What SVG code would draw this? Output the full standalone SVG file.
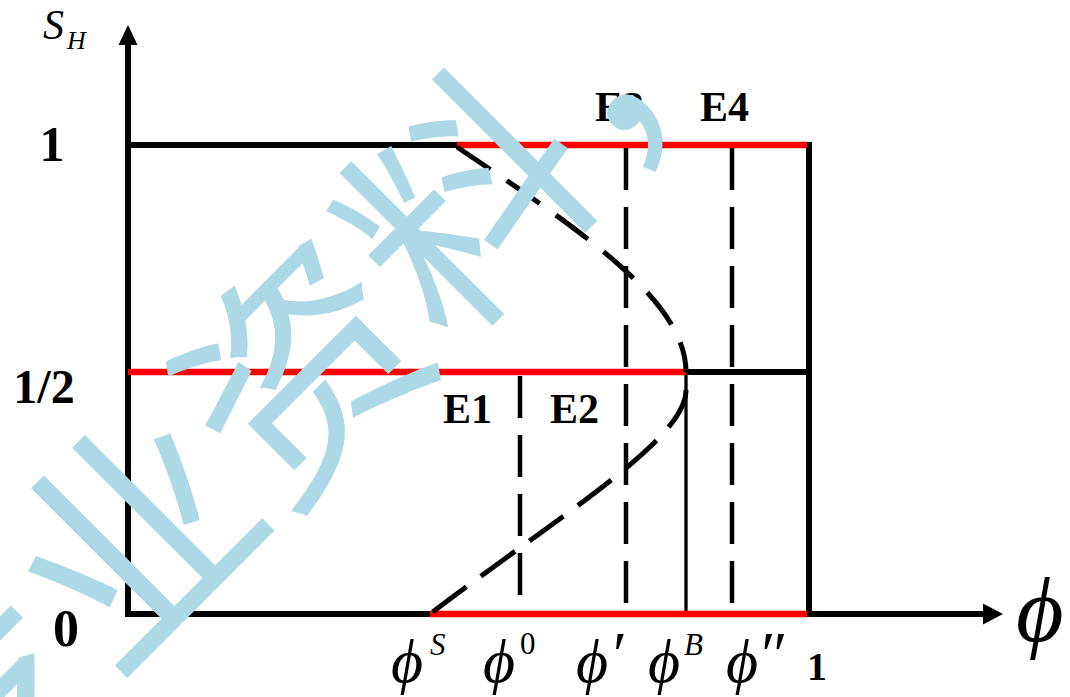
<svg xmlns="http://www.w3.org/2000/svg" width="1070" height="697" viewBox="0 0 1070 697">
<style>
.k{stroke:#000;stroke-width:6;fill:none}
.r{stroke:#ff0000;stroke-width:6.5;fill:none}
.dv{stroke:#000;stroke-width:4.5;fill:none;stroke-dasharray:42 17}
.dc{stroke:#000;stroke-width:5;fill:none;stroke-dasharray:40 20}
.t{font-family:"Liberation Serif","Times New Roman",serif;fill:#000}
.b{font-weight:bold}
.i{font-style:italic}
.wm{font-family:"Noto Sans CJK SC",sans-serif;fill:#ADD8E6;font-size:236px}
</style>
<rect width="1070" height="697" fill="#fff"/>
<g id="axes">
<polyline class="k" points="128,44 128,614 986,614"/>
<polygon points="128,25 118.5,45 137.5,45" fill="#000"/>
<polygon points="1003,614 983,603.5 983,624.5" fill="#000"/>
</g>
<g id="connectors">
<line class="k" x1="128" y1="145" x2="460" y2="145"/>
<line class="k" x1="686" y1="372" x2="809" y2="372"/>
<line class="k" x1="809" y1="142" x2="809" y2="617"/>
<line x1="686" y1="372" x2="686" y2="614" stroke="#000" stroke-width="3.3"/>
<line class="dv" x1="520" y1="376" x2="520" y2="614"/>
<line class="dv" x1="626" y1="148" x2="626" y2="614"/>
<line class="dv" x1="732" y1="148" x2="732" y2="614"/>
<line class="r" x1="457" y1="145" x2="807" y2="145"/>
<line class="r" x1="128" y1="372" x2="686" y2="372"/>
<line class="r" x1="430" y1="614" x2="807" y2="614"/>
<path class="dc" d="M457,147 C580,230 686,300 686,372"/>
<path class="dc" d="M686,390 C686,440 560,515 430,614" style="stroke-dasharray:42 18"/>
</g>
<g id="labels" class="t">
<text class="i" x="43" y="39" font-size="42">S</text>
<text class="i" x="67" y="49" font-size="26">H</text>
<text class="b" x="52" y="161" font-size="50" text-anchor="middle">1</text>
<text class="b" x="44" y="403" font-size="48" text-anchor="middle">1/2</text>
<text class="b" x="66" y="646" font-size="52" text-anchor="middle">0</text>
<text class="b" x="443" y="423" font-size="42">E1</text>
<text class="b" x="550" y="423" font-size="42">E2</text>
<text class="b" x="595" y="121" font-size="42">E3</text>
<text class="b" x="700" y="121" font-size="42">E4</text>
<text class="b" x="807" y="680" font-size="40">1</text>
<text class="i" x="391" y="682" font-size="62">ϕ</text>
<text class="i" x="430" y="655" font-size="31">S</text>
<text class="i" x="483" y="682" font-size="62">ϕ</text>
<text x="520" y="654" font-size="31">0</text>
<text class="i" x="576" y="682" font-size="62">ϕ</text>
<text class="i" x="609" y="676" font-size="64">′</text>
<text class="i" x="648" y="682" font-size="62">ϕ</text>
<text class="i" x="684" y="655" font-size="31">B</text>
<text class="i" x="726" y="682" font-size="62">ϕ</text>
<text class="i" x="757" y="676" font-size="64">″</text>
<text class="i" x="1016" y="641" font-size="92">ϕ</text>
</g>
<g id="watermark" class="wm" text-anchor="middle" dominant-baseline="central">
<text transform="translate(-44,694) rotate(-45)">专</text>
<text transform="translate(123,527) rotate(-45)">业</text>
<text transform="translate(290,360) rotate(-45)">资</text>
<text transform="translate(455,191) rotate(-45)">料</text>
<text transform="translate(622,24) rotate(-45)">，</text>
</g>
</svg>
